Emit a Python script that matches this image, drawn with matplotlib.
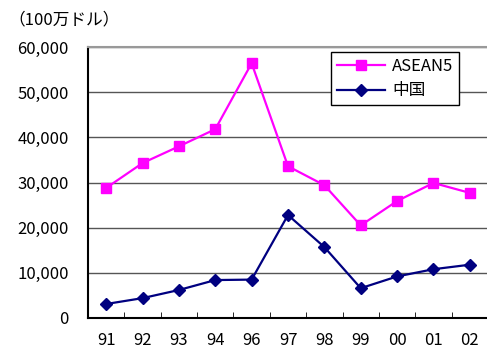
import matplotlib
matplotlib.use("Agg")
import matplotlib.pyplot as plt
from matplotlib.ticker import FuncFormatter

plt.rcParams['font.family'] = ['Noto Sans CJK JP', 'DejaVu Sans']

years = ["91", "92", "93", "94", "96", "97", "98", "99", "00", "01", "02"]
asean5 = [28800, 34300, 38000, 41800, 56400, 33600, 29400, 20500, 25900, 29900, 27700]
china = [3100, 4400, 6200, 8400, 8500, 22800, 15700, 6600, 9200, 10800, 11800]

fig = plt.figure(figsize=(4.87, 3.49), dpi=100)
ax = fig.add_axes([88 / 487, 31 / 349, 400 / 487, 271 / 349])

x = list(range(len(years)))
ax.plot(x, asean5, '-s', color='#FF00FF', lw=1.6, markersize=7.5, label='ASEAN5')
ax.plot(x, china, '-D', color='#000080', lw=1.6, markersize=6.5, label='中国')

ax.set_xlim(-0.5, len(years) - 0.5)
ax.set_ylim(0, 60000)
ax.set_yticks(range(0, 60001, 10000))
ax.yaxis.set_major_formatter(FuncFormatter(lambda v, p: f"{int(v):,}"))
ax.set_xticks(x)
ax.set_xticklabels(years)
ax.set_xticks([i + 0.5 for i in x[:-1]], minor=True)
ax.tick_params(axis='x', which='major', length=0, pad=10, labelsize=12)
ax.tick_params(axis='x', which='minor', length=4, direction='in', color='black')
ax.tick_params(axis='y', length=0, pad=14, labelsize=12)

ax.grid(axis='y', color='#555555', lw=1)
ax.set_axisbelow(True)
ax.spines['right'].set_visible(False)
ax.spines['top'].set_color('#999999')
ax.spines['top'].set_linewidth(1.5)
ax.spines['left'].set_linewidth(1.5)
ax.spines['bottom'].set_linewidth(1.5)

leg = ax.legend(loc='upper right', bbox_to_anchor=(0.9275, 0.9815), borderaxespad=0,
                fontsize=12, frameon=True, fancybox=False, edgecolor='black',
                framealpha=1, handlelength=2.9, borderpad=0.35, labelspacing=0.45,
                handletextpad=0.4)
leg.get_frame().set_linewidth(1)

fig.text(8 / 487, 1 - 20 / 349, '（100万ドル）', fontsize=12, va='center', ha='left')

fig.savefig('out.png', dpi=100)
